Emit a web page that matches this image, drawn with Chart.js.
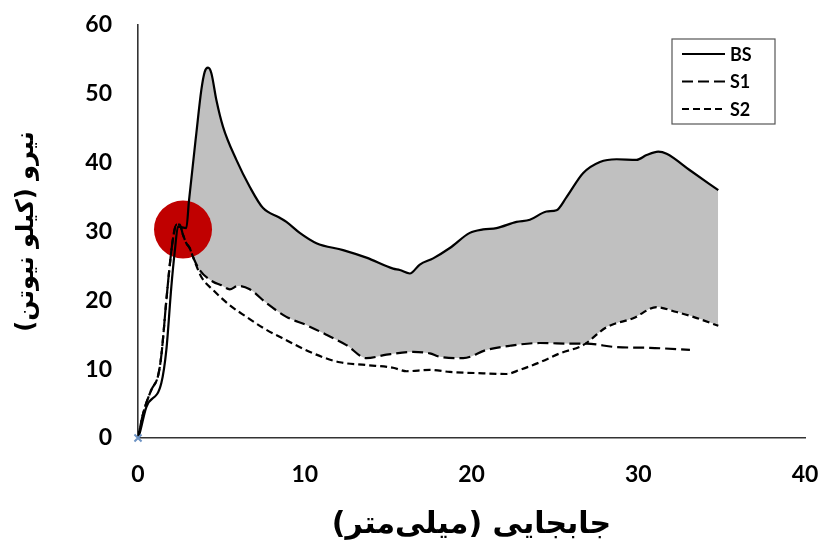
<!DOCTYPE html>
<html>
<head>
<meta charset="utf-8">
<script src="https://cdn.jsdelivr.net/npm/chart.js@4.4.1/dist/chart.umd.min.js"></script>
<style>
  body { margin: 0; background: #fff; }
  #forceChart { direction: rtl; }
</style>
</head>
<body>
<canvas id="forceChart" width="822" height="544"></canvas>
<script>
// displacement (mm) and force (kN) for each specimen
var dispBS = [0, 0.1, 0.5, 1.4, 1.7, 2.0, 2.2, 2.4, 2.9, 3.05, 3.5, 3.8, 4.0, 4.2, 4.4, 4.7, 5.1, 5.9, 6.7, 7.5, 8.5, 8.9, 9.7, 10.7, 12.3, 13.7, 15.3, 15.7, 16.3, 16.9, 17.7, 18.7, 19.9, 20.7, 21.5, 22.7, 23.5, 24.5, 25.1, 25.7, 26.7, 27.7, 28.7, 29.9, 30.5, 31.2, 31.7, 33.1, 34.8];
var forceBS = [0, 0.7, 4.5, 8.0, 12.8, 22.0, 27.0, 30.7, 30.5, 34.3, 44.3, 50.6, 53.2, 53.8, 53.0, 49.1, 45.2, 40.4, 36.5, 33.4, 32.0, 31.4, 29.8, 28.3, 27.3, 26.2, 24.6, 24.4, 23.9, 25.2, 26.1, 27.6, 29.8, 30.3, 30.5, 31.4, 31.7, 32.9, 33.1, 35.0, 38.5, 40.1, 40.5, 40.4, 41.1, 41.6, 41.3, 38.9, 36.0];

var dispS1 = [0, 0.3, 0.8, 1.2, 1.4, 1.7, 1.9, 2.1, 2.3, 2.5, 2.7, 2.9, 3.1, 3.3, 3.7, 4.5, 5.0, 5.5, 6.0, 6.7, 7.7, 8.9, 10.1, 11.3, 12.5, 13.7, 14.9, 16.5, 17.5, 18.1, 19.5, 20.9, 22.3, 24.1, 26.1, 26.9, 28.7, 30.7, 33.1];
var forceS1 = [0, 3.5, 7.0, 9.0, 12.0, 20.0, 25.0, 29.0, 31.0, 31.0, 29.5, 28.3, 27.6, 26.3, 24.4, 22.7, 22.2, 21.6, 22.1, 21.6, 19.6, 17.6, 16.4, 15.0, 13.5, 11.6, 12.1, 12.5, 12.3, 11.8, 11.6, 12.8, 13.4, 13.8, 13.7, 13.7, 13.2, 13.1, 12.8];

var dispS2 = [0, 0.3, 0.8, 1.2, 1.4, 1.7, 1.9, 2.1, 2.3, 2.5, 2.7, 2.9, 3.1, 3.3, 3.8, 4.5, 5.5, 6.5, 7.5, 8.9, 10.5, 12.1, 13.7, 15.3, 16.1, 17.5, 18.7, 20.7, 22.1, 22.9, 24.1, 25.3, 26.7, 28.1, 29.7, 31.1, 32.3, 33.3, 34.8];
var forceS2 = [0, 3.5, 7.0, 9.0, 12.0, 20.0, 25.0, 29.0, 31.0, 31.0, 29.5, 28.3, 27.6, 26.3, 23.4, 21.5, 19.3, 17.6, 16.0, 14.2, 12.3, 11.0, 10.6, 10.2, 9.7, 9.9, 9.6, 9.4, 9.3, 9.9, 11.0, 12.3, 13.5, 16.1, 17.4, 19.0, 18.3, 17.6, 16.3];

// highlighted yield point
var yieldPoint = [{ x: 2.7, y: 30.3 }];

var xTicks = [0, 10, 20, 30, 40];
var yTicks = [0, 10, 20, 30, 40, 50, 60];

var xTitle = 'جابجایی (میلی‌متر)';
var yTitle = 'نیرو (کیلو نیوتن)';

function toPoints(xs, ys) {
    return xs.map(function (x, i) { return { x: x, y: ys[i] }; });
}

var tickFont = { family: 'Lato', size: 23, weight: 'bold' };

// boxed legend in the upper right of the plot
var boxLegend = {
    id: 'boxLegend',
    afterDraw: function (chart) {
        var ctx = chart.ctx;
        var rows = [0, 1, 2];
        var left = 672, top = 39, w = 103, h = 85;
        ctx.save();
        ctx.direction = 'ltr';
        ctx.fillStyle = '#fff';
        ctx.fillRect(left, top, w, h);
        ctx.strokeStyle = '#555';
        ctx.lineWidth = 1.2;
        ctx.strokeRect(left, top, w, h);
        rows.forEach(function (idx, r) {
            var ds = chart.data.datasets[idx];
            var y = 54 + r * 27.5;
            ctx.beginPath();
            ctx.setLineDash(ds.borderDash || []);
            ctx.strokeStyle = '#000';
            ctx.lineWidth = 2.2;
            ctx.moveTo(682, y);
            ctx.lineTo(725, y);
            ctx.stroke();
            ctx.setLineDash([]);
            ctx.fillStyle = '#000';
            ctx.font = 'bold 18px Lato';
            ctx.textAlign = 'left';
            ctx.textBaseline = 'middle';
            ctx.fillText(ds.label, 730, y + 1);
        });
        ctx.restore();
    }
};

var chart = new Chart(document.getElementById('forceChart').getContext('2d'), {
    type: 'line',
    data: {
        datasets: [
            {
                label: 'BS',
                data: toPoints(dispBS, forceBS),
                borderColor: '#000',
                borderWidth: 2.2,
                pointRadius: 0,
                cubicInterpolationMode: 'monotone',
                fill: { target: 2, above: '#c0c0c0', below: 'rgba(0,0,0,0)' },
                order: 1
            },
            {
                label: 'S1',
                data: toPoints(dispS1, forceS1),
                borderColor: '#000',
                borderWidth: 2.2,
                borderDash: [11, 5],
                pointRadius: 0,
                cubicInterpolationMode: 'monotone',
                // clears the band between S1 and S2 where S1 lies higher
                fill: { target: 2, above: '#ffffff', below: 'rgba(0,0,0,0)' },
                order: 0
            },
            {
                label: 'S2',
                data: toPoints(dispS2, forceS2),
                borderColor: '#000',
                borderWidth: 2.2,
                borderDash: [7, 4],
                pointRadius: 0,
                cubicInterpolationMode: 'monotone',
                fill: false,
                order: 2
            },
            {
                label: 'yield',
                type: 'scatter',
                data: yieldPoint,
                pointRadius: 29,
                pointHoverRadius: 29,
                backgroundColor: '#c00000',
                borderWidth: 0,
                order: 3
            },
            {
                label: 'origin',
                type: 'scatter',
                data: [{ x: xTicks[0], y: yTicks[0] }],
                pointStyle: 'crossRot',
                pointRadius: 5,
                borderColor: '#6d93c4',
                borderWidth: 2,
                clip: false,
                order: -1
            }
        ]
    },
    options: {
        responsive: false,
        animation: false,
        layout: { autoPadding: false, padding: { top: 25, right: 17, left: 0, bottom: 0 } },
        plugins: {
            legend: { display: false },
            tooltip: { enabled: false },
            filler: { propagate: false, drawTime: 'beforeDatasetsDraw' }
        },
        scales: {
            x: {
                type: 'linear',
                min: xTicks[0],
                max: xTicks[xTicks.length - 1],
                afterBuildTicks: function (scale) {
                    scale.ticks = xTicks.map(function (v) { return { value: v }; });
                },
                afterFit: function (scale) {
                    scale.height = 106;
                    scale.paddingLeft = 0;
                    scale.paddingRight = 0;
                },
                grid: { display: false, drawTicks: false },
                border: { display: true, color: '#333', width: 1.6 },
                ticks: { font: tickFont, color: '#000', padding: 23, maxRotation: 0 },
                title: {
                    display: true, text: xTitle, color: '#000',
                    font: { family: 'DejaVu Sans', size: 30, weight: 'bold' },
                    padding: { top: 0, bottom: 1 }
                }
            },
            y: {
                type: 'linear',
                min: yTicks[0],
                max: yTicks[yTicks.length - 1],
                afterBuildTicks: function (scale) {
                    scale.ticks = yTicks.map(function (v) { return { value: v }; });
                },
                afterFit: function (scale) {
                    scale.width = 138;
                    scale.paddingTop = 0;
                    scale.paddingBottom = 0;
                },
                grid: { display: false, drawTicks: false },
                border: { display: true, color: '#333', width: 1.6 },
                ticks: { font: tickFont, color: '#000', padding: 26 },
                title: {
                    display: true, text: yTitle, color: '#000',
                    font: { family: 'DejaVu Sans', size: 24, weight: 'bold' },
                    padding: { top: 12, bottom: 0 }
                }
            }
        }
    },
    plugins: [boxLegend]
});
</script>
</body>
</html>
